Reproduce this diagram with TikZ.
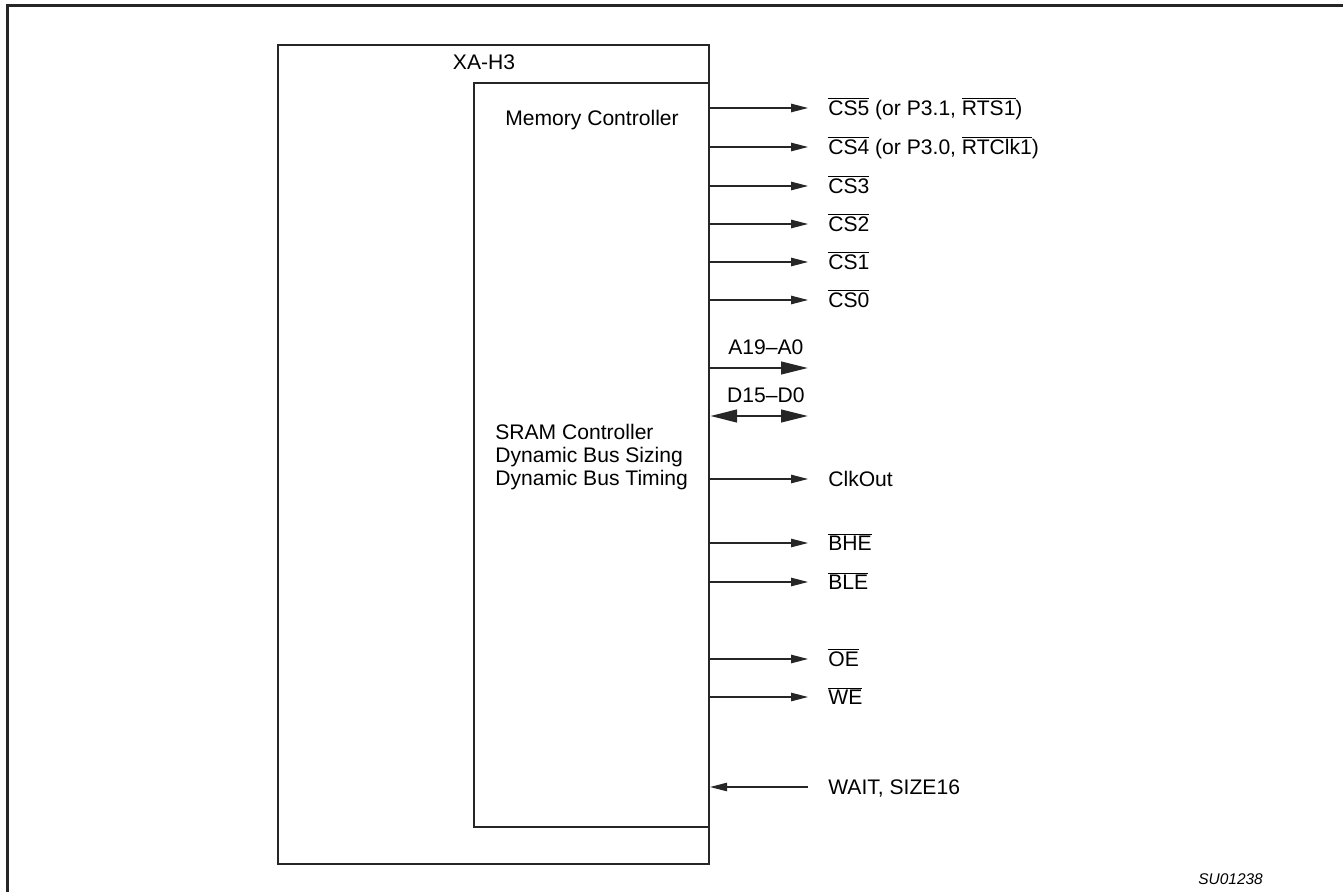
\documentclass[tikz,border=0pt]{standalone}
\usepackage{fontspec}
\setmainfont{Liberation Sans}
\usetikzlibrary{arrows.meta,positioning}

\newcommand{\ovl}[1]{$\overline{\mbox{#1}}$}

\begin{document}
\begin{tikzpicture}[
  x=0.2mm, y=-0.2mm,
  font=\fontsize{12}{13.3}\selectfont,
  box/.style={draw=black!85,rectangle,line width=1.2pt,anchor=north west,inner sep=0pt},
  lbl/.style={inner sep=0pt,anchor=west,text height=12pt,text depth=3pt},
  sig/.style={draw=black!85,line width=0.6pt,-{Triangle[length=3.4mm,width=1.7mm]},shorten >=4mm},
  sigin/.style={draw=black!85,line width=0.6pt,-{Triangle[length=3.4mm,width=1.7mm]},shorten <=4mm},
  bus/.style={draw=black!85,line width=1.6pt,-{Triangle[length=5.4mm,width=2.5mm]}},
  dbus/.style={draw=black!85,line width=1.6pt,{Triangle[length=5.4mm,width=2.5mm]}-{Triangle[length=5.4mm,width=2.5mm]}}
]
  \useasboundingbox (0,0) rectangle (1343,892);
  \draw[black!85,line width=1.3pt] (7.5,892) -- (7.5,5.5) -- (1343,5.5);

  % blocks
  \node[box,minimum width=8.62cm,minimum height=16.38cm] (xa) at (277,44) {};
  \node[box,minimum width=4.7cm,minimum height=14.88cm] (mc) at (473,82) {};
  \node (xaname) at (484,62) {XA-H3};
  \node (mcname) at (592,120) {Memory Controller};
  \node[inner sep=0pt,anchor=west,align=left] (sram) at (495,457)
    {SRAM Controller\\Dynamic Bus Sizing\\Dynamic Bus Timing};

  % signals
  \node[lbl] (cs5) at (828,108) {\ovl{CS5} (or P3.1, \ovl{RTS1})};
  \node[lbl] (cs4) at (828,147) {\ovl{CS4} (or P3.0, \ovl{RTClk1})};
  \node[lbl] (cs3) at (828,186) {\ovl{CS3}};
  \node[lbl] (cs2) at (828,224) {\ovl{CS2}};
  \node[lbl] (cs1) at (828,262) {\ovl{CS1}};
  \node[lbl] (cs0) at (828,300) {\ovl{CS0}};
  \node[lbl] (clk) at (828,479) {ClkOut};
  \node[lbl] (bhe) at (828,543) {\ovl{BHE}};
  \node[lbl] (ble) at (828,582) {\ovl{BLE}};
  \node[lbl] (oe) at (828,659) {\ovl{OE}};
  \node[lbl] (we) at (828,697) {\ovl{WE}};
  \node[lbl] (wait) at (828,787) {WAIT, SIZE16};
  \coordinate (aend) at (808,368);
  \coordinate (dend) at (808,416);

  % edges
  \draw[sig] (mc.east |- cs5.west) -- (cs5.west);
  \draw[sig] (mc.east |- cs4.west) -- (cs4.west);
  \draw[sig] (mc.east |- cs3.west) -- (cs3.west);
  \draw[sig] (mc.east |- cs2.west) -- (cs2.west);
  \draw[sig] (mc.east |- cs1.west) -- (cs1.west);
  \draw[sig] (mc.east |- cs0.west) -- (cs0.west);
  \draw[bus] (mc.east |- aend) -- (aend) node[pos=0.57,above=2.4mm,inner sep=0pt] {A19--A0};
  \draw[dbus] (mc.east |- dend) -- (dend) node[pos=0.57,above=2.4mm,inner sep=0pt] {D15--D0};
  \draw[sig] (mc.east |- clk.west) -- (clk.west);
  \draw[sig] (mc.east |- bhe.west) -- (bhe.west);
  \draw[sig] (mc.east |- ble.west) -- (ble.west);
  \draw[sig] (mc.east |- oe.west) -- (oe.west);
  \draw[sig] (mc.east |- we.west) -- (we.west);
  \draw[sigin] (wait.west) -- (mc.east |- wait.west);

  \node[anchor=west,inner sep=0pt,font=\fontsize{8.8}{10}\selectfont\itshape] (code) at (1198,879) {SU01238};
\end{tikzpicture}
\end{document}
